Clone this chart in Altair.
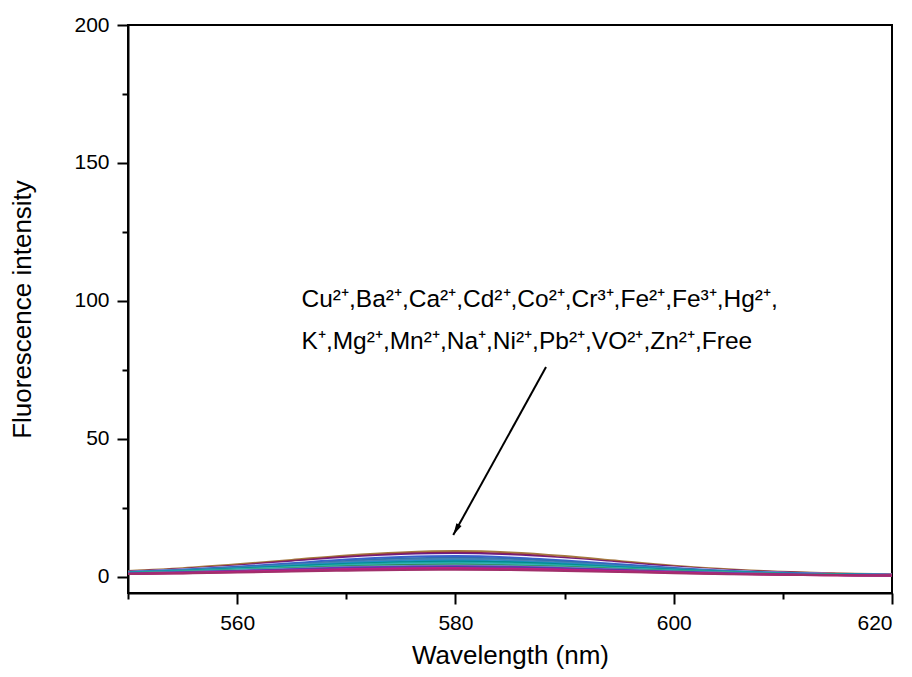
import altair as alt
import pandas as pd

wavelength = [550, 555, 560, 565, 570, 575, 580, 585, 590, 595, 600, 605, 610, 615, 620]

cu = [2.2, 3.2, 4.6, 6.2, 7.8, 8.9, 9.4, 8.9, 7.6, 5.8, 4.1, 2.8, 1.9, 1.3, 1.0]
ba = [2.0, 2.9, 4.2, 5.8, 7.3, 8.4, 8.8, 8.3, 7.0, 5.4, 3.8, 2.5, 1.7, 1.2, 0.9]
ca = [1.9, 2.8, 4.0, 5.5, 7.0, 8.0, 8.4, 7.9, 6.7, 5.1, 3.6, 2.4, 1.6, 1.1, 0.8]
cd = [1.8, 2.7, 3.8, 5.2, 6.6, 7.6, 8.0, 7.5, 6.4, 4.9, 3.4, 2.3, 1.5, 1.1, 0.8]
co = [1.8, 2.6, 3.7, 5.0, 6.3, 7.2, 7.6, 7.1, 6.0, 4.6, 3.3, 2.2, 1.5, 1.0, 0.8]
cr = [1.7, 2.5, 3.5, 4.6, 5.8, 6.7, 7.0, 6.6, 5.6, 4.3, 3.1, 2.1, 1.4, 1.0, 0.7]
fe2 = [1.6, 2.4, 3.3, 4.4, 5.4, 6.2, 6.5, 6.1, 5.2, 4.0, 2.9, 2.0, 1.3, 0.9, 0.7]
fe3 = [1.6, 2.3, 3.1, 4.1, 5.0, 5.7, 6.0, 5.6, 4.8, 3.7, 2.7, 1.9, 1.3, 0.9, 0.7]
hg = [1.5, 2.2, 3.0, 3.9, 4.7, 5.3, 5.6, 5.3, 4.5, 3.5, 2.6, 1.8, 1.2, 0.9, 0.7]
k = [1.5, 2.1, 2.8, 3.6, 4.4, 5.0, 5.2, 4.9, 4.2, 3.3, 2.4, 1.7, 1.2, 0.8, 0.6]
mg = [1.4, 2.0, 2.7, 3.4, 4.1, 4.6, 4.8, 4.5, 3.9, 3.1, 2.3, 1.6, 1.1, 0.8, 0.6]
mn = [1.4, 1.9, 2.5, 3.2, 3.9, 4.3, 4.5, 4.2, 3.7, 2.9, 2.2, 1.6, 1.1, 0.8, 0.6]
na = [1.3, 1.8, 2.4, 3.0, 3.6, 4.0, 4.2, 3.9, 3.4, 2.7, 2.0, 1.5, 1.0, 0.7, 0.6]
ni = [1.3, 1.7, 2.2, 2.8, 3.4, 3.7, 3.9, 3.7, 3.2, 2.6, 1.9, 1.4, 1.0, 0.7, 0.5]
pb = [1.2, 1.6, 2.1, 2.6, 3.1, 3.4, 3.6, 3.4, 3.0, 2.4, 1.8, 1.3, 0.9, 0.7, 0.5]
vo = [1.2, 1.5, 2.0, 2.4, 2.9, 3.2, 3.3, 3.1, 2.7, 2.2, 1.7, 1.2, 0.9, 0.6, 0.5]
zn = [1.1, 1.4, 1.8, 2.2, 2.6, 2.9, 3.0, 2.8, 2.5, 2.0, 1.5, 1.1, 0.8, 0.6, 0.5]
free = [1.1, 1.3, 1.6, 2.0, 2.3, 2.5, 2.6, 2.5, 2.2, 1.8, 1.4, 1.0, 0.8, 0.6, 0.5]

series_names = ["Cu", "Ba", "Ca", "Cd", "Co", "Cr", "Fe2", "Fe3", "Hg",
                "K", "Mg", "Mn", "Na", "Ni", "Pb", "VO", "Zn", "Free"]
series_values = [cu, ba, ca, cd, co, cr, fe2, fe3, hg, k, mg, mn, na, ni, pb, vo, zn, free]
series_colors = ["#A57A3E", "#8B2252", "#6A1B8A", "#F4F4FF", "#3A5FCD", "#2F6FB0",
                 "#4682B4", "#1E90C8", "#008B8B", "#20A8A8", "#3CB8B8", "#2E8B57",
                 "#5FB0C0", "#7B2FBF", "#4B3CA0", "#B03080", "#C71585", "#A0306A"]

rows = []
for name, vals in zip(series_names, series_values):
    for w, v in zip(wavelength, vals):
        rows.append({"wavelength": w, "intensity": v, "ion": name})
df = pd.DataFrame(rows)

FONT = "Liberation Sans"

x_scale = alt.Scale(domain=[550, 620], nice=False, zero=False)
y_scale = alt.Scale(domain=[-5.8, 200], nice=False, zero=False)

x_axis = alt.Axis(
    values=[550, 560, 570, 580, 590, 600, 610, 620],
    labelExpr="datum.value % 20 === 0 ? datum.label : ''",
    tickSize={"condition": {"test": "datum.value % 20 === 0", "value": 11}, "value": 6},
    title="Wavelength (nm)", grid=False, labelPadding=8, titlePadding=9,
)
y_axis = alt.Axis(
    values=[0, 25, 50, 75, 100, 125, 150, 175, 200],
    labelExpr="datum.value % 50 === 0 ? datum.label : ''",
    tickSize={"condition": {"test": "datum.value % 50 === 0", "value": 11}, "value": 6},
    title="Fluorescence intensity", grid=False, labelPadding=8, titlePadding=38,
)

lines = alt.Chart(df).mark_line(strokeWidth=2, interpolate="monotone", clip=True).encode(
    x=alt.X("wavelength:Q", scale=x_scale, axis=x_axis),
    y=alt.Y("intensity:Q", scale=y_scale, axis=y_axis),
    color=alt.Color("ion:N", scale=alt.Scale(domain=series_names, range=series_colors), legend=None),
    detail="ion:N",
)

label_df = pd.DataFrame({
    "x": [565.9, 565.9],
    "y": [100.4, 85.1],
    "text": ["Cu²⁺,Ba²⁺,Ca²⁺,Cd²⁺,Co²⁺,Cr³⁺,Fe²⁺,Fe³⁺,Hg²⁺,",
             "K⁺,Mg²⁺,Mn²⁺,Na⁺,Ni²⁺,Pb²⁺,VO²⁺,Zn²⁺,Free"],
})
labels = alt.Chart(label_df).mark_text(
    align="left", baseline="middle", font=FONT, fontSize=24.5, color="black"
).encode(x="x:Q", y="y:Q", text="text:N")

arrow_df = pd.DataFrame({"x": [588.3], "y": [76.1], "x2": [579.8], "y2": [15.2]})
arrow_line = alt.Chart(arrow_df).mark_rule(color="black", strokeWidth=2).encode(
    x="x:Q", y="y:Q", x2="x2:Q", y2="y2:Q"
)
head_df = pd.DataFrame({"x": [579.8], "y": [15.2]})
arrow_head = alt.Chart(head_df).mark_point(
    shape="M0,0L-0.4,-1.6L0.4,-1.6Z", filled=True, color="black", opacity=1,
    size=220, angle=29
).encode(x="x:Q", y="y:Q")

chart = alt.layer(lines, arrow_line, arrow_head, labels).properties(
    width=764, height=568,
    autosize=alt.AutoSizeParams(type="none"),
    padding={"left": 120, "top": 17, "right": 12, "bottom": 76},
    background="white",
).configure_view(
    stroke="black", strokeWidth=2
).configure_axis(
    domainColor="black", domainWidth=2, tickColor="black", tickWidth=2,
    labelFont=FONT, labelFontSize=21, labelColor="black",
    titleFont=FONT, titleFontSize=26, titleColor="black", titleFontWeight="normal",
)

chart.save("out.html", embed_options={"renderer": "svg", "actions": False})
